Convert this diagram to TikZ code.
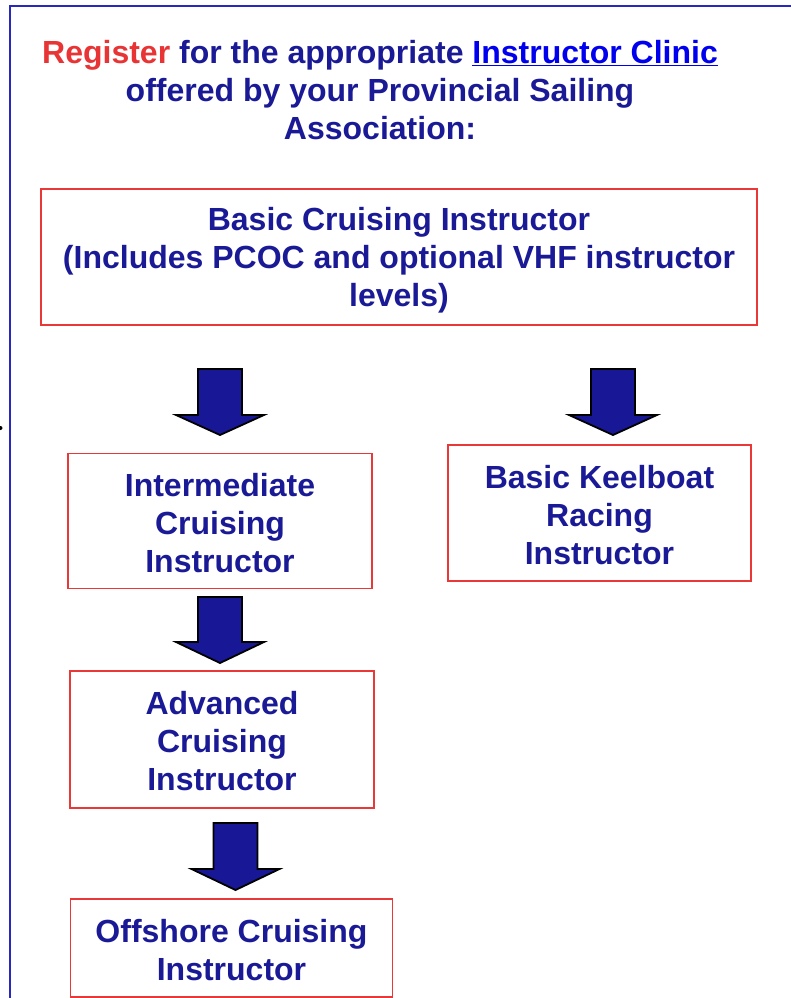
\documentclass[tikz,border=0pt]{standalone}
\usepackage{fontspec}
\setmainfont{Liberation Sans}
\definecolor{navy}{RGB}{26,26,150}
\definecolor{regred}{RGB}{232,52,52}
\definecolor{linkblue}{RGB}{0,0,238}
\definecolor{boxred}{RGB}{232,56,56}
\definecolor{frameblue}{RGB}{40,40,190}
\definecolor{arrowfill}{RGB}{24,24,150}
\usetikzlibrary{calc}
\tikzset{
  lbl/.style={font=\fontsize{32}{38}\selectfont\bfseries, text=navy, align=center, inner sep=0pt},
  stepbox/.style={draw=boxred, line width=1.8pt, inner sep=0pt},
  blockarrow/.style={draw=black, line width=1.8pt, fill=arrowfill, line join=miter}
}
% #1 name, #2 x, #3 top, #4 shoulder, #5 tip
\newcommand{\downblock}[5]{%
  \coordinate (#1) at (#2,#3);
  \coordinate (#1-tip) at (#2,#5);
  \draw[blockarrow] ($(#1)+(-22,0)$) -- ($(#1)+(22,0)$) -- ($(#1)+(22,#4-#3)$) -- ($(#1)+(44,#4-#3)$)
    -- (#1-tip) -- ($(#1)+(-44,#4-#3)$) -- ($(#1)+(-22,#4-#3)$) -- cycle;
}
\begin{document}
\begin{tikzpicture}[x=1pt,y=-1pt]
\useasboundingbox (0,0) rectangle (790,998);
% outer frame
\draw[frameblue, line width=2pt] (10,1000) -- (10,6) -- (792,6);
\fill[black] (0.5,428) circle (2);
% title
\node[lbl] (title) at (380,90) {{\color{regred}Register} for the appropriate {\color{linkblue}\underline{Instructor Clinic}}\\offered by your Provincial Sailing\\Association:};
% boxes
\node[stepbox, minimum width=716pt, minimum height=136pt] (basic) at (399,257) {};
\node[stepbox, minimum width=304pt, minimum height=135pt] (inter) at (220,521) {};
\node[stepbox, minimum width=303pt, minimum height=136pt] (keel) at (599.5,513) {};
\node[stepbox, minimum width=304pt, minimum height=137pt] (adv) at (222,739.5) {};
\node[stepbox, minimum width=322pt, minimum height=98pt] (off) at (231.5,948) {};
% box labels
\node[lbl] (basic-t) at ([yshift=-3pt]basic.center) {Basic Cruising Instructor\\(Includes PCOC and optional VHF instructor\\levels)};
\node[lbl] (inter-t) at ([yshift=-2pt]inter.center) {Intermediate\\Cruising\\Instructor};
\node[lbl] (keel-t) at ([yshift=-2pt]keel.center) {Basic Keelboat\\Racing\\Instructor};
\node[lbl] (adv-t) at ([yshift=-2pt]adv.center) {Advanced\\Cruising\\Instructor};
\node[lbl] (off-t) at ([yshift=-2pt]off.center) {Offshore Cruising\\Instructor};
% block arrows
\downblock{a1}{220}{369}{415}{435}
\downblock{a2}{613}{369}{415}{435}
\downblock{a3}{220}{597}{642}{663}
\downblock{a4}{235.5}{823}{869}{890}
\end{tikzpicture}
\end{document}
